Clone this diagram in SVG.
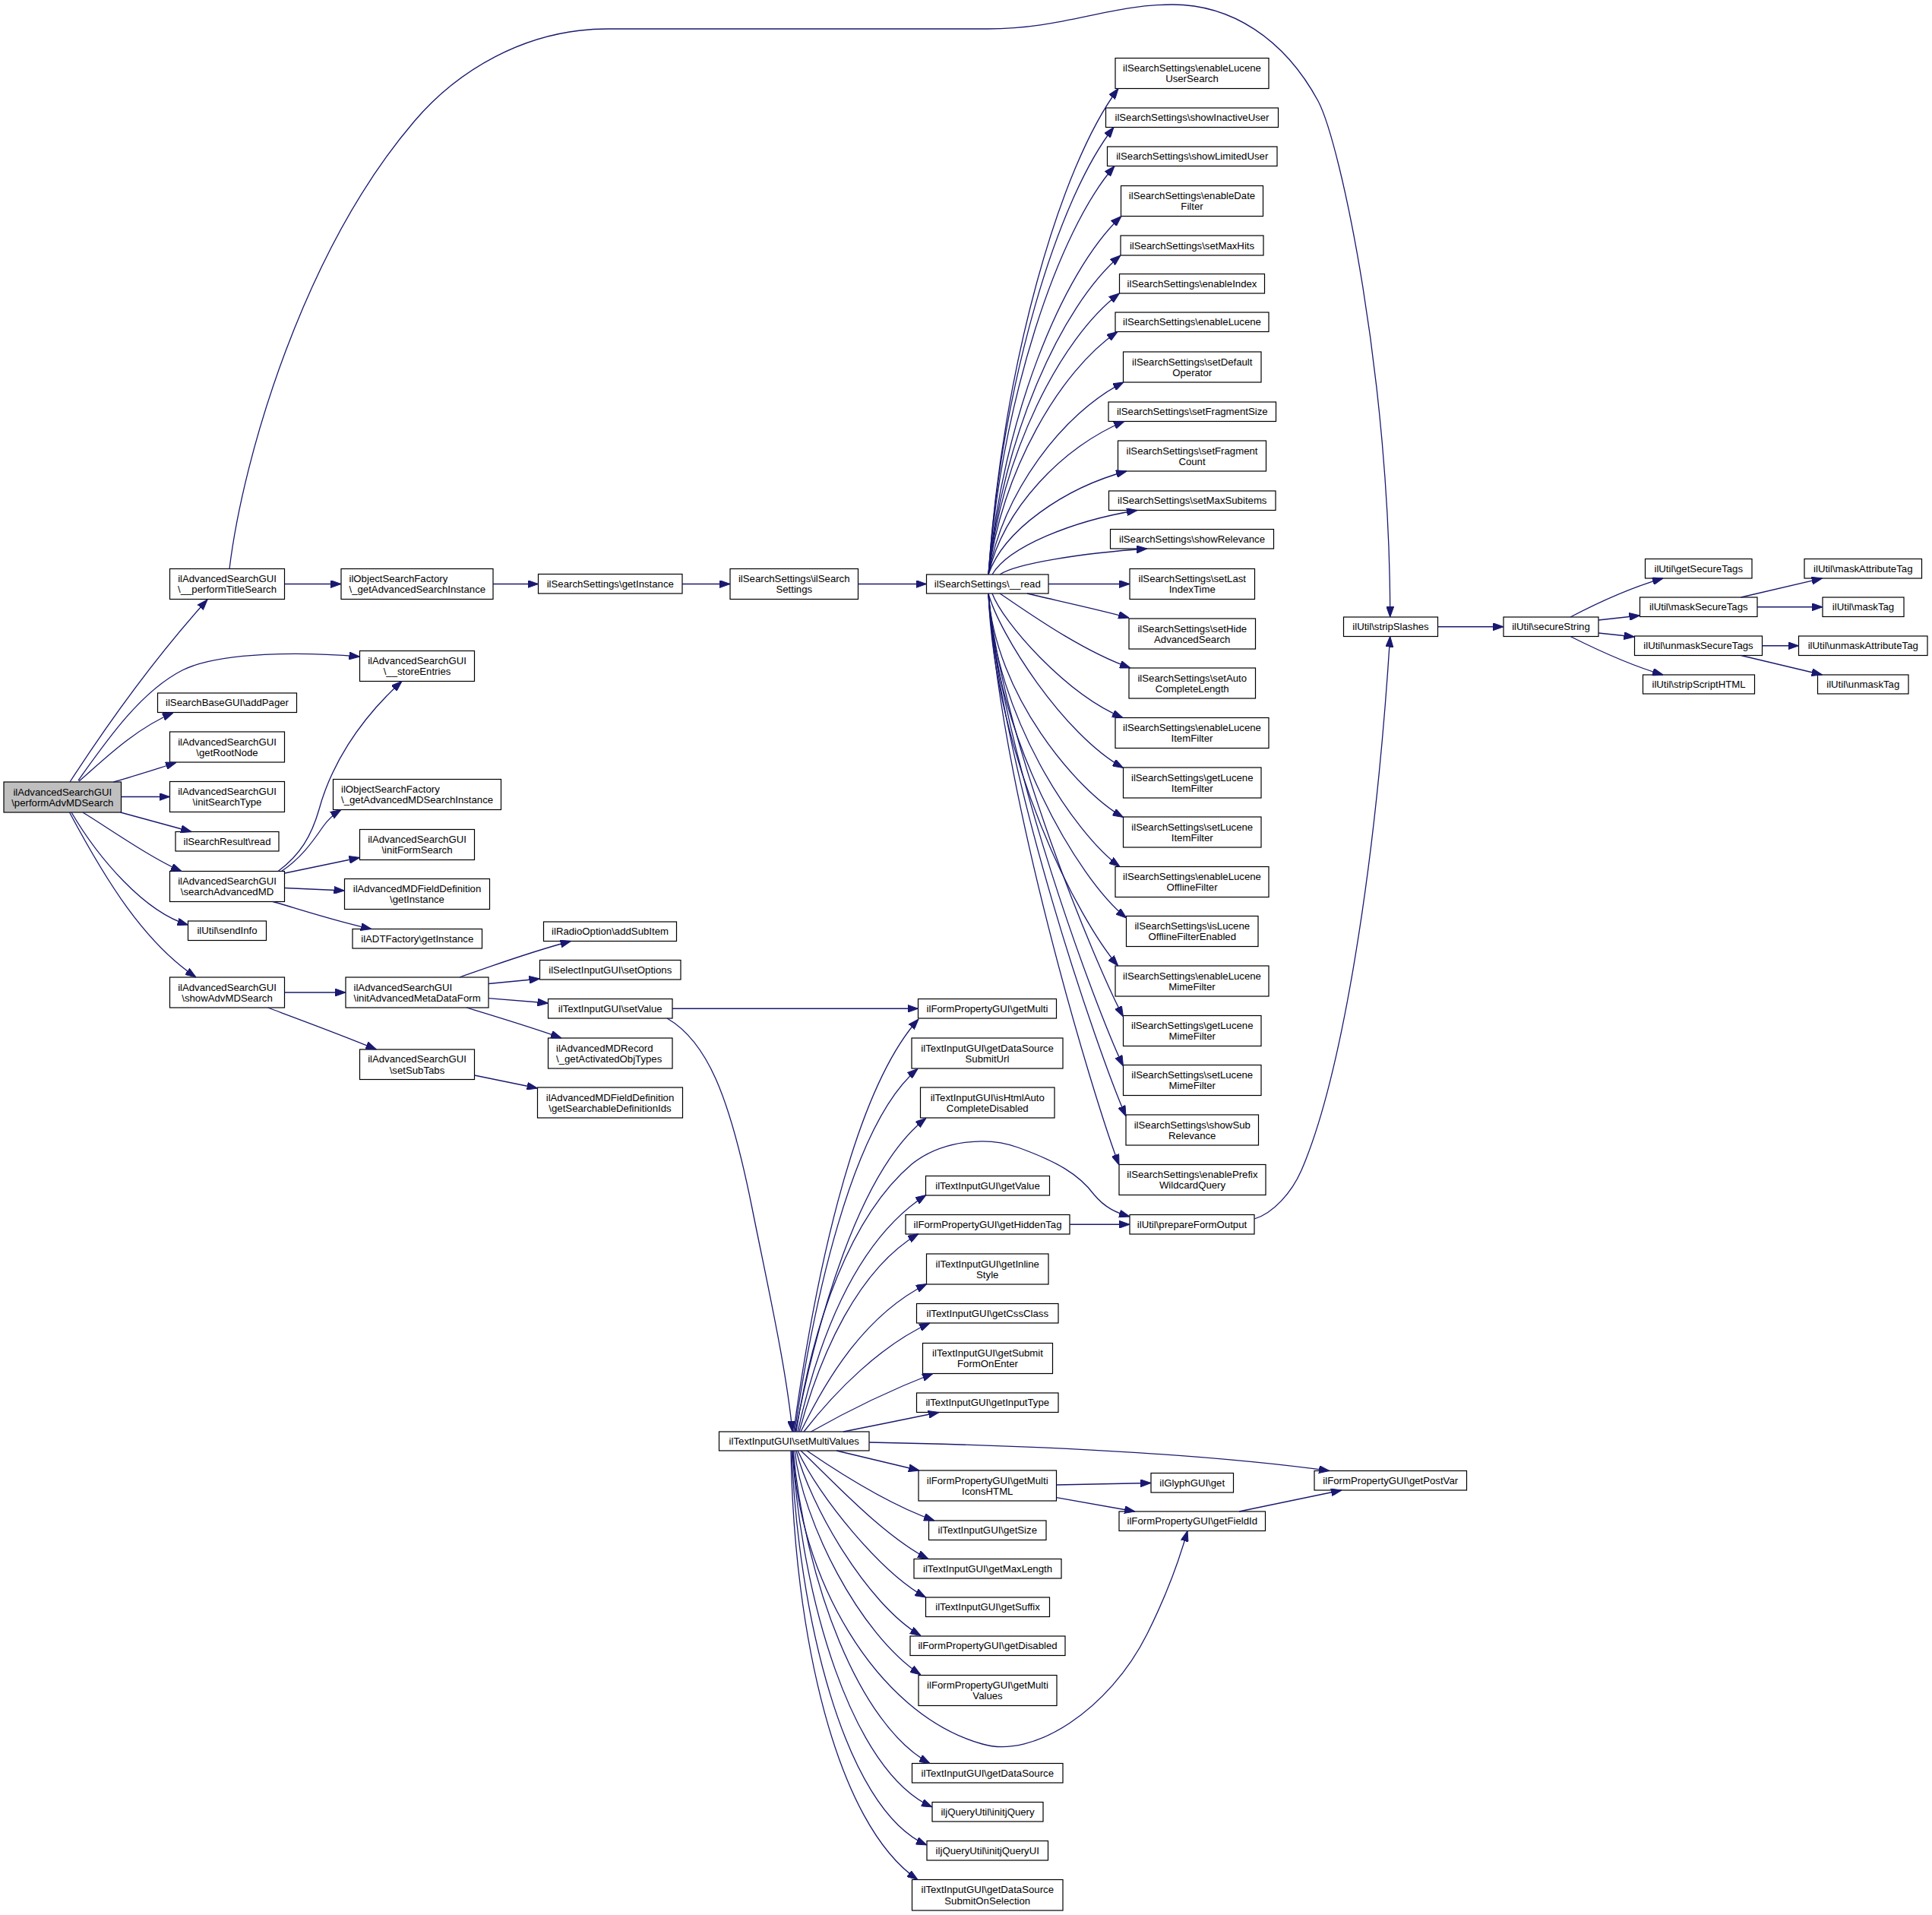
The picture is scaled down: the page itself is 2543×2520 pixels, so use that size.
<svg xmlns="http://www.w3.org/2000/svg" width="2543" height="2520" viewBox="0 0 2543 2520">
<defs>
<style>
.node rect{fill:#ffffff;stroke:#000000;stroke-width:1.2}
.node.main rect{fill:#bfbfbf}
.node text{font-family:"Liberation Sans",Arial,Helvetica,sans-serif;font-size:13.2px;fill:#000000;text-anchor:middle}
.node text.l{text-anchor:start}
#edges path{fill:none;stroke:#191970;stroke-width:1.3;marker-end:url(#arr)}
</style>
<marker id="arr" markerWidth="14" markerHeight="10" refX="14" refY="5" orient="auto" markerUnits="userSpaceOnUse" viewBox="0 0 14 10">
<path d="M0,0L14,5L0,10z" fill="#191970" stroke="#191970" stroke-width="1"/>
</marker>
</defs>
<rect x="0" y="0" width="2543" height="2520" fill="#ffffff"/>

<g id="nodes">
<g id="n0" class="node main"><rect x="5" y="1029" width="154.5" height="40"/><text x="82.25" y="1046.5">ilAdvancedSearchGUI</text><text x="82.25" y="1060.8">\performAdvMDSearch</text></g>
<g id="n1" class="node"><rect x="223.5" y="748.5" width="151" height="40"/><text x="299" y="766">ilAdvancedSearchGUI</text><text x="299" y="780.3">\__performTitleSearch</text></g>
<g id="n2" class="node"><rect x="207.5" y="912" width="183" height="25.5"/><text x="299" y="929.35">ilSearchBaseGUI\addPager</text></g>
<g id="n3" class="node"><rect x="223.5" y="963" width="151" height="40"/><text x="299" y="980.5">ilAdvancedSearchGUI</text><text x="299" y="994.8">\getRootNode</text></g>
<g id="n4" class="node"><rect x="223.5" y="1028.5" width="151" height="40"/><text x="299" y="1046">ilAdvancedSearchGUI</text><text x="299" y="1060.3">\initSearchType</text></g>
<g id="n5" class="node"><rect x="231" y="1094.5" width="136" height="25.5"/><text x="299" y="1111.85">ilSearchResult\read</text></g>
<g id="n6" class="node"><rect x="223.5" y="1146.5" width="151" height="40"/><text x="299" y="1164">ilAdvancedSearchGUI</text><text x="299" y="1178.3">\searchAdvancedMD</text></g>
<g id="n7" class="node"><rect x="247.5" y="1212" width="103" height="25.5"/><text x="299" y="1229.35">ilUtil\sendInfo</text></g>
<g id="n8" class="node"><rect x="223.5" y="1286" width="151" height="40"/><text x="299" y="1303.5">ilAdvancedSearchGUI</text><text x="299" y="1317.8">\showAdvMDSearch</text></g>

<g id="n9" class="node"><rect x="449" y="748.5" width="200" height="40"/><text class="l" x="459.5" y="766">ilObjectSearchFactory</text><text class="l" x="459.5" y="780.3">\_getAdvancedSearchInstance</text></g>
<g id="n10" class="node"><rect x="473.5" y="856.5" width="151" height="40"/><text x="549" y="874">ilAdvancedSearchGUI</text><text x="549" y="888.3">\__storeEntries</text></g>
<g id="n11" class="node"><rect x="438.5" y="1025.5" width="221" height="40"/><text class="l" x="449" y="1043">ilObjectSearchFactory</text><text class="l" x="449" y="1057.3">\_getAdvancedMDSearchInstance</text></g>
<g id="n12" class="node"><rect x="473.5" y="1091.5" width="151" height="40"/><text x="549" y="1109">ilAdvancedSearchGUI</text><text x="549" y="1123.3">\initFormSearch</text></g>
<g id="n13" class="node"><rect x="453.5" y="1156.5" width="191" height="40"/><text x="549" y="1174">ilAdvancedMDFieldDefinition</text><text x="549" y="1188.3">\getInstance</text></g>
<g id="n14" class="node"><rect x="464" y="1222.5" width="170.5" height="25.5"/><text x="549.25" y="1239.85">ilADTFactory\getInstance</text></g>
<g id="n15" class="node"><rect x="455" y="1286" width="188" height="40"/><text class="l" x="465.5" y="1303.5">ilAdvancedSearchGUI</text><text class="l" x="465.5" y="1317.8">\initAdvancedMetaDataForm</text></g>
<g id="n16" class="node"><rect x="473.5" y="1381" width="151" height="39.5"/><text x="549" y="1398.25">ilAdvancedSearchGUI</text><text x="549" y="1412.55">\setSubTabs</text></g>

<g id="n17" class="node"><rect x="708.5" y="755.5" width="189.5" height="25.5"/><text x="803.25" y="772.85">ilSearchSettings\getInstance</text></g>
<g id="n18" class="node"><rect x="715.5" y="1213" width="175" height="25.5"/><text x="803" y="1230.35">ilRadioOption\addSubItem</text></g>
<g id="n19" class="node"><rect x="710.5" y="1263.5" width="185.5" height="25.5"/><text x="803.25" y="1280.85">ilSelectInputGUI\setOptions</text></g>
<g id="n20" class="node"><rect x="721.5" y="1314.5" width="163.5" height="25.5"/><text x="803.25" y="1331.85">ilTextInputGUI\setValue</text></g>
<g id="n21" class="node"><rect x="721.5" y="1366" width="163.5" height="40"/><text class="l" x="732" y="1383.5">ilAdvancedMDRecord</text><text class="l" x="732" y="1397.8">\_getActivatedObjTypes</text></g>
<g id="n22" class="node"><rect x="707.5" y="1431" width="191" height="40"/><text x="803" y="1448.5">ilAdvancedMDFieldDefinition</text><text x="803" y="1462.8">\getSearchableDefinitionIds</text></g>

<g id="n23" class="node"><rect x="961" y="748.5" width="168.5" height="40"/><text x="1045.25" y="766">ilSearchSettings\ilSearch</text><text x="1045.25" y="780.3">Settings</text></g>
<g id="n24" class="node"><rect x="946.5" y="1884" width="197.5" height="25"/><text x="1045.25" y="1901.1">ilTextInputGUI\setMultiValues</text></g>

<g id="n25" class="node"><rect x="1219.5" y="756" width="160.5" height="25"/><text x="1299.75" y="773.1">ilSearchSettings\__read</text></g>
<g id="n26" class="node"><rect x="1208.5" y="1314.5" width="182" height="25.5"/><text x="1299.5" y="1331.85">ilFormPropertyGUI\getMulti</text></g>
<g id="n27" class="node"><rect x="1200" y="1366" width="199" height="40"/><text x="1299.5" y="1383.5">ilTextInputGUI\getDataSource</text><text x="1299.5" y="1397.8">SubmitUrl</text></g>
<g id="n28" class="node"><rect x="1211.5" y="1431" width="176.5" height="40"/><text x="1299.75" y="1448.5">ilTextInputGUI\isHtmlAuto</text><text x="1299.75" y="1462.8">CompleteDisabled</text></g>
<g id="n29" class="node"><rect x="1218.5" y="1547.5" width="163" height="25.5"/><text x="1300" y="1564.85">ilTextInputGUI\getValue</text></g>
<g id="n30" class="node"><rect x="1192" y="1598.5" width="216" height="25.5"/><text x="1300" y="1615.85">ilFormPropertyGUI\getHiddenTag</text></g>
<g id="n31" class="node"><rect x="1219.5" y="1650" width="160.5" height="40"/><text x="1299.75" y="1667.5">ilTextInputGUI\getInline</text><text x="1299.75" y="1681.8">Style</text></g>
<g id="n32" class="node"><rect x="1206.5" y="1715.5" width="186.5" height="25.5"/><text x="1299.75" y="1732.85">ilTextInputGUI\getCssClass</text></g>
<g id="n33" class="node"><rect x="1214.5" y="1767.5" width="171" height="40"/><text x="1300" y="1785">ilTextInputGUI\getSubmit</text><text x="1300" y="1799.3">FormOnEnter</text></g>
<g id="n34" class="node"><rect x="1206.5" y="1833" width="186.5" height="25.5"/><text x="1299.75" y="1850.35">ilTextInputGUI\getInputType</text></g>
<g id="n35" class="node"><rect x="1209" y="1935" width="181.5" height="40"/><text x="1299.75" y="1952.5">ilFormPropertyGUI\getMulti</text><text x="1299.75" y="1966.8">IconsHTML</text></g>
<g id="n36" class="node"><rect x="1222.5" y="2001" width="154.5" height="25.5"/><text x="1299.75" y="2018.35">ilTextInputGUI\getSize</text></g>
<g id="n37" class="node"><rect x="1203" y="2051.5" width="194" height="25.5"/><text x="1300" y="2068.85">ilTextInputGUI\getMaxLength</text></g>
<g id="n38" class="node"><rect x="1218.5" y="2102" width="163" height="25.5"/><text x="1300" y="2119.35">ilTextInputGUI\getSuffix</text></g>
<g id="n39" class="node"><rect x="1198" y="2153" width="204" height="25.5"/><text x="1300" y="2170.35">ilFormPropertyGUI\getDisabled</text></g>
<g id="n40" class="node"><rect x="1209" y="2204.5" width="182" height="40"/><text x="1300" y="2222">ilFormPropertyGUI\getMulti</text><text x="1300" y="2236.3">Values</text></g>
<g id="n41" class="node"><rect x="1200.5" y="2320.5" width="198.5" height="25.5"/><text x="1299.75" y="2337.85">ilTextInputGUI\getDataSource</text></g>
<g id="n42" class="node"><rect x="1227" y="2371.5" width="146" height="25.5"/><text x="1300" y="2388.85">iljQueryUtil\initjQuery</text></g>
<g id="n43" class="node"><rect x="1220" y="2422.5" width="159.5" height="25.5"/><text x="1299.75" y="2439.85">iljQueryUtil\initjQueryUI</text></g>
<g id="n44" class="node"><rect x="1200.5" y="2473.5" width="198.5" height="40.5"/><text x="1299.75" y="2491.25">ilTextInputGUI\getDataSource</text><text x="1299.75" y="2505.55">SubmitOnSelection</text></g>

<g id="s1" class="node"><rect x="1468" y="76.5" width="202" height="40"/><text x="1569" y="94">ilSearchSettings\enableLucene</text><text x="1569" y="108.3">UserSearch</text></g>
<g id="s2" class="node"><rect x="1455.5" y="142" width="227" height="25.5"/><text x="1569" y="159.35">ilSearchSettings\showInactiveUser</text></g>
<g id="s3" class="node"><rect x="1457.5" y="193" width="223.5" height="25.5"/><text x="1569.25" y="210.35">ilSearchSettings\showLimitedUser</text></g>
<g id="s4" class="node"><rect x="1475.5" y="244.5" width="187" height="40"/><text x="1569" y="262">ilSearchSettings\enableDate</text><text x="1569" y="276.3">Filter</text></g>
<g id="s5" class="node"><rect x="1475" y="310" width="188" height="26"/><text x="1569" y="327.6">ilSearchSettings\setMaxHits</text></g>
<g id="s6" class="node"><rect x="1473.5" y="360.5" width="191" height="25.5"/><text x="1569" y="377.85">ilSearchSettings\enableIndex</text></g>
<g id="s7" class="node"><rect x="1468" y="411" width="202" height="25.5"/><text x="1569" y="428.35">ilSearchSettings\enableLucene</text></g>
<g id="s8" class="node"><rect x="1478.5" y="463" width="181.5" height="40"/><text x="1569.25" y="480.5">ilSearchSettings\setDefault</text><text x="1569.25" y="494.8">Operator</text></g>
<g id="s9" class="node"><rect x="1459" y="529" width="220.5" height="25.5"/><text x="1569.25" y="546.35">ilSearchSettings\setFragmentSize</text></g>
<g id="s10" class="node"><rect x="1471.5" y="580" width="195" height="40"/><text x="1569" y="597.5">ilSearchSettings\setFragment</text><text x="1569" y="611.8">Count</text></g>
<g id="s11" class="node"><rect x="1459.5" y="646" width="219.5" height="25.5"/><text x="1569.25" y="663.35">ilSearchSettings\setMaxSubitems</text></g>
<g id="s12" class="node"><rect x="1461.5" y="696.5" width="215" height="25.5"/><text x="1569" y="713.85">ilSearchSettings\showRelevance</text></g>
<g id="s13" class="node"><rect x="1487" y="748.5" width="164.5" height="40"/><text x="1569.25" y="766">ilSearchSettings\setLast</text><text x="1569.25" y="780.3">IndexTime</text></g>
<g id="s14" class="node"><rect x="1486" y="814" width="166.5" height="40"/><text x="1569.25" y="831.5">ilSearchSettings\setHide</text><text x="1569.25" y="845.8">AdvancedSearch</text></g>
<g id="s15" class="node"><rect x="1486" y="879" width="166.5" height="40"/><text x="1569.25" y="896.5">ilSearchSettings\setAuto</text><text x="1569.25" y="910.8">CompleteLength</text></g>
<g id="s16" class="node"><rect x="1468" y="944.5" width="202" height="40"/><text x="1569" y="962">ilSearchSettings\enableLucene</text><text x="1569" y="976.3">ItemFilter</text></g>
<g id="s17" class="node"><rect x="1478.5" y="1010" width="181.5" height="40"/><text x="1569.25" y="1027.5">ilSearchSettings\getLucene</text><text x="1569.25" y="1041.8">ItemFilter</text></g>
<g id="s18" class="node"><rect x="1478.5" y="1075" width="181.5" height="40"/><text x="1569.25" y="1092.5">ilSearchSettings\setLucene</text><text x="1569.25" y="1106.8">ItemFilter</text></g>
<g id="s19" class="node"><rect x="1468" y="1140.5" width="202" height="40"/><text x="1569" y="1158">ilSearchSettings\enableLucene</text><text x="1569" y="1172.3">OfflineFilter</text></g>
<g id="s20" class="node"><rect x="1482.5" y="1205.5" width="173.5" height="40"/><text x="1569.25" y="1223">ilSearchSettings\isLucene</text><text x="1569.25" y="1237.3">OfflineFilterEnabled</text></g>
<g id="s21" class="node"><rect x="1468" y="1271" width="202" height="40"/><text x="1569" y="1288.5">ilSearchSettings\enableLucene</text><text x="1569" y="1302.8">MimeFilter</text></g>
<g id="s22" class="node"><rect x="1478.5" y="1336.5" width="181.5" height="40"/><text x="1569.25" y="1354">ilSearchSettings\getLucene</text><text x="1569.25" y="1368.3">MimeFilter</text></g>
<g id="s23" class="node"><rect x="1478.5" y="1401.5" width="181.5" height="40"/><text x="1569.25" y="1419">ilSearchSettings\setLucene</text><text x="1569.25" y="1433.3">MimeFilter</text></g>
<g id="s24" class="node"><rect x="1482" y="1467" width="174.5" height="40"/><text x="1569.25" y="1484.5">ilSearchSettings\showSub</text><text x="1569.25" y="1498.8">Relevance</text></g>
<g id="s25" class="node"><rect x="1473" y="1532.5" width="193" height="40"/><text x="1569.5" y="1550">ilSearchSettings\enablePrefix</text><text x="1569.5" y="1564.3">WildcardQuery</text></g>

<g id="n45" class="node"><rect x="1487" y="1598.5" width="164" height="25.5"/><text x="1569" y="1615.85">ilUtil\prepareFormOutput</text></g>
<g id="n46" class="node"><rect x="1515" y="1938.5" width="108.5" height="25.5"/><text x="1569.25" y="1955.85">ilGlyphGUI\get</text></g>
<g id="n47" class="node"><rect x="1473" y="1989" width="192.5" height="25.5"/><text x="1569.25" y="2006.35">ilFormPropertyGUI\getFieldId</text></g>
<g id="n48" class="node"><rect x="1768.5" y="812" width="124" height="25.5"/><text x="1830.5" y="829.35">ilUtil\stripSlashes</text></g>
<g id="n49" class="node"><rect x="1730" y="1935.5" width="200.5" height="25.5"/><text x="1830.25" y="1952.85">ilFormPropertyGUI\getPostVar</text></g>
<g id="n50" class="node"><rect x="1979" y="812" width="125" height="25.5"/><text x="2041.5" y="829.35">ilUtil\secureString</text></g>
<g id="n51" class="node"><rect x="2165.5" y="735.5" width="140.5" height="25.5"/><text x="2235.75" y="752.85">ilUtil\getSecureTags</text></g>
<g id="n52" class="node"><rect x="2158.5" y="786" width="154.5" height="25.5"/><text x="2235.75" y="803.35">ilUtil\maskSecureTags</text></g>
<g id="n53" class="node"><rect x="2151.5" y="837" width="168" height="25.5"/><text x="2235.5" y="854.35">ilUtil\unmaskSecureTags</text></g>
<g id="n54" class="node"><rect x="2162.5" y="888" width="147" height="25"/><text x="2236" y="905.1">ilUtil\stripScriptHTML</text></g>
<g id="n55" class="node"><rect x="2375" y="735.5" width="154.5" height="25.5"/><text x="2452.25" y="752.85">ilUtil\maskAttributeTag</text></g>
<g id="n56" class="node"><rect x="2399" y="786" width="107" height="25.5"/><text x="2452.5" y="803.35">ilUtil\maskTag</text></g>
<g id="n57" class="node"><rect x="2367.5" y="837" width="169.5" height="25.5"/><text x="2452.25" y="854.35">ilUtil\unmaskAttributeTag</text></g>
<g id="n58" class="node"><rect x="2392.5" y="888" width="119.5" height="25"/><text x="2452.25" y="905.1">ilUtil\unmaskTag</text></g>
</g>

<g id="edges">
<path d="M92,1029 C140,955 200,870 273,789"/>
<path d="M103,1027 C140,975 185,910 240,882 C290,857 400,858 473.5,864"/>
<path d="M104,1028 C130,1006 175,960 228,938"/>
<path d="M149.5,1029 C175,1022 205,1012 232,1003.5"/>
<path d="M159.5,1048.5 L223.5,1048.5"/>
<path d="M158.5,1069 L252,1094.5"/>
<path d="M109,1069 C140,1088 200,1130 239,1146.5"/>
<path d="M94,1069 C130,1130 190,1200 247.5,1217"/>
<path d="M91.5,1069 C140,1160 190,1240 258,1286"/>

<path d="M374.5,768.5 L449,768.5"/>
<path d="M302,748.5 C320,600 400,330 545,160 C600,95 690,38 800,38 L1300,38 C1400,38 1460,6 1543,6 C1620,6 1690,50 1735,133 C1765,190 1830,500 1829.7,812"/>
<path d="M366,1146.5 C395,1125 410,1100 420,1065 C435,1010 470,950 529,896.5"/>
<path d="M370.5,1146.5 C395,1130 410,1110 425,1088 C432,1078 440,1071 449,1065.5"/>
<path d="M375,1149 L473.5,1128.5"/>
<path d="M375,1168.5 L453.5,1172"/>
<path d="M359,1186.5 C390,1195 440,1212 489,1222.5"/>
<path d="M374.5,1306 L455,1306"/>
<path d="M352.6,1326 C390,1340 450,1362 495.5,1381"/>

<path d="M649,768.5 L708.5,768.5"/>
<path d="M898,768.5 L961,768.5"/>
<path d="M1129.5,768.5 L1219.5,768.5"/>

<path d="M605,1286 C650,1270 700,1252 751.5,1238.5"/>
<path d="M643,1294.5 L710.5,1288"/>
<path d="M643,1313.7 L721.5,1320"/>
<path d="M614,1326 C660,1340 700,1352 739,1366"/>
<path d="M624.5,1415 L707.5,1432"/>

<path d="M885,1327.25 L1208.5,1327.25"/>
<path d="M878,1340 C930,1370 960,1440 990,1590 C1010,1690 1035,1800 1043,1884"/>

<path d="M1301,756 C1319.8,481.2 1395,219.2 1472,116.5"/>
<path d="M1301,756 C1319,503 1391.8,262 1466,167.5"/>
<path d="M1301,756 C1319,525 1392,305 1467,218.5"/>
<path d="M1301,756 C1320,553.5 1396,360 1476,284.5"/>
<path d="M1301,756 C1320,575.6 1395.6,403.6 1475,336"/>
<path d="M1301,756 C1319.7,597.3 1394.5,446 1473.5,386"/>
<path d="M1301,756 C1319.7,619 1394.5,488.5 1471,436.5"/>
<path d="M1301,756 C1320.5,647.4 1398.4,544 1479,503"/>
<path d="M1301,756 C1320.7,669.6 1399.5,587 1480,554.5"/>
<path d="M1301,756 C1321,697.7 1401,642 1483,620"/>
<path d="M1306,756 C1327,720 1411,685.4 1497,671.5"/>
<path d="M1316,756 C1337,741.6 1423,728 1510,722"/>
<path d="M1380,768.5 L1487,768.5"/>
<path d="M1352,781 C1390,790 1450,803 1486,813"/>
<path d="M1316,781 C1345,800 1420,855 1488,879"/>
<path d="M1306,781 C1319.8,818.5 1402.3,913 1478,944.5"/>
<path d="M1301,781 C1315,833.7 1399.6,966.5 1478.5,1010.5"/>
<path d="M1301,781 C1309.9,913.5 1416.4,1040.2 1478.5,1075.5"/>
<path d="M1301,781 C1309.7,942.8 1414.5,1097.4 1474,1140.5"/>
<path d="M1301,781 C1310,973.4 1419.1,1157 1482.7,1208"/>
<path d="M1301,781 C1309.5,1001.5 1420.5,1212.2 1471.7,1271"/>
<path d="M1301,781 C1318.8,976 1443,1271.2 1478.5,1338"/>
<path d="M1301,781 C1318.8,998.7 1443,1328.4 1478.5,1403"/>
<path d="M1301,781 C1319.1,1021.8 1445.8,1386.4 1482,1469"/>
<path d="M1301,781 C1318.2,1044.2 1438.6,1442.8 1473,1533"/>

<path d="M1044.6,1884 C1070,1700 1120,1440 1209,1341"/>
<path d="M1046,1884 C1070,1720 1120,1480 1208,1406.5"/>
<path d="M1047,1884 C1075,1740 1130,1540 1219,1471.5"/>
<path d="M1048,1884 C1070,1740 1120,1600 1200,1532 C1240,1500 1300,1495 1340,1510 C1390,1528 1420,1545 1440,1572 C1455,1590 1470,1596 1487,1601"/>
<path d="M1050,1884 C1080,1750 1130,1630 1219,1572.5"/>
<path d="M1052,1884 C1080,1780 1130,1670 1209,1623.5"/>
<path d="M1054,1884 C1090,1810 1140,1730 1220,1689.5"/>
<path d="M1058,1884 C1100,1830 1160,1770 1224,1741"/>
<path d="M1067.5,1884 C1110,1860 1170,1830 1228,1807.5"/>
<path d="M1110,1884 C1150,1876 1200,1866 1236,1858.5"/>
<path d="M1144,1898 C1400,1903 1600,1915 1750,1935.5"/>
<path d="M1101,1909 L1210,1935"/>
<path d="M1062,1909 C1100,1935 1170,1980 1230,2001"/>
<path d="M1054,1909 C1088,1940 1160,2020 1222,2051.5"/>
<path d="M1050,1909 C1078,1970 1160,2070 1218.5,2102"/>
<path d="M1048,1909 C1066,1980 1140,2110 1212,2152.5"/>
<path d="M1046,1909 C1056,2000 1130,2150 1212,2204"/>
<path d="M1044,1909 C1050,2070 1150,2255 1293,2295 C1360,2315 1460,2250 1510,2150 C1535,2100 1553,2050 1563,2014.5"/>
<path d="M1044,1909 C1060,2080 1130,2270 1224,2320.5"/>
<path d="M1043,1909 C1055,2100 1120,2330 1227,2378"/>
<path d="M1042,1909 C1050,2120 1110,2380 1220,2428"/>
<path d="M1041,1909 C1045,2150 1100,2400 1208,2473.5"/>

<path d="M1390.5,1954 L1515,1951.5"/>
<path d="M1390.5,1970.7 L1494,1989"/>
<path d="M1631,1989 L1766,1961"/>
<path d="M1408,1611.25 L1487,1611.25"/>
<path d="M1651,1604 C1675,1597 1700,1570 1713,1540 C1765,1420 1810,1150 1829.7,837.5"/>

<path d="M1892.5,824.75 L1979,824.75"/>
<path d="M2067,812 C2090,800 2140,775 2189,761"/>
<path d="M2104,816 L2158.5,810"/>
<path d="M2104,833 L2151.5,838"/>
<path d="M2067,837.5 C2090,849 2140,874 2189,888"/>
<path d="M2291.5,786 L2398.6,761"/>
<path d="M2313,798.75 L2399,798.75"/>
<path d="M2319.5,849.75 L2367.5,849.75"/>
<path d="M2291.5,862.5 L2398.6,888"/>
</g>
</svg>
